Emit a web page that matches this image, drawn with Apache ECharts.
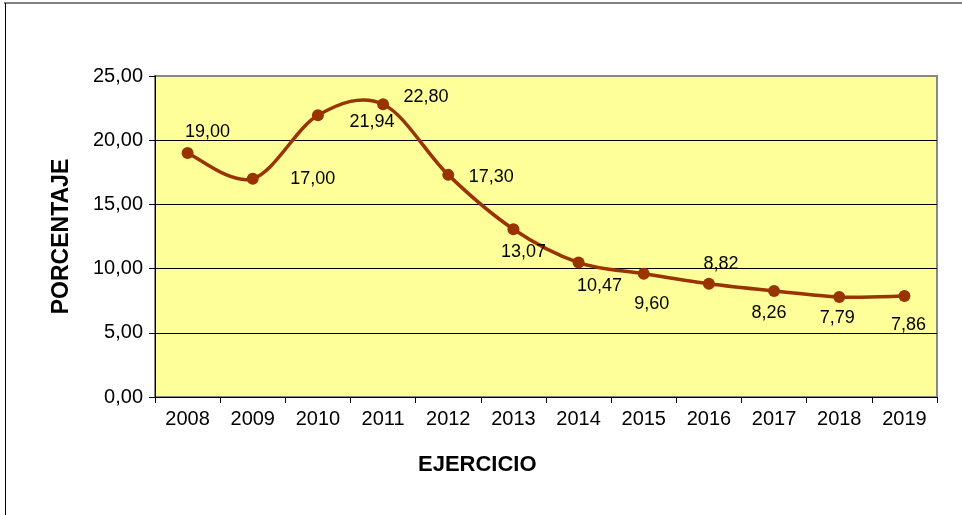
<!DOCTYPE html>
<html>
<head>
<meta charset="utf-8">
<script src="https://cdn.jsdelivr.net/npm/echarts@6/dist/echarts.min.js"></script>
<style>
  html, body { margin: 0; padding: 0; background: #fff; }
  #chart { width: 962px; height: 515px; }
</style>
</head>
<body>
<div id="chart"></div>
<script>
// datos
var years = ['2008', '2009', '2010', '2011', '2012', '2013', '2014', '2015', '2016', '2017', '2018', '2019']
var porcentaje = [19.00, 17.00, 21.94, 22.80, 17.30, 13.07, 10.47, 9.60, 8.82, 8.26, 7.79, 7.86]
// desplazamiento de cada etiqueta respecto al punto (como en el original de Excel)
var labelOffsets = [[20, -21], [60, 0], [54, 7], [43, -7], [43, 2], [10, 23], [21, 23], [8, 30], [12, -20], [-5, 22], [-2, 21], [4, 29]]

var lineColor = '#993300'

function fmt(v) {
  return v.toFixed(2).replace('.', ',')
}

var chart = echarts.init(document.getElementById('chart'))

var seriesData = porcentaje.map(function (v, i) {
  return {
    value: v,
    label: { offset: labelOffsets[i] }
  }
})

// curva suavizada estilo Excel (Catmull-Rom), un tramo por punto
function renderSegment(params, api) {
  var i = params.dataIndex
  var n = porcentaje.length
  if (i >= n - 1) return null
  var p = function (k) {
    k = Math.max(0, Math.min(n - 1, k))
    return api.coord([k, porcentaje[k]])
  }
  var p0 = p(i - 1), p1 = p(i), p2 = p(i + 1), p3 = p(i + 2)
  var c1 = [p1[0] + (p2[0] - p0[0]) / 6, p1[1] + (p2[1] - p0[1]) / 6]
  var c2 = [p2[0] - (p3[0] - p1[0]) / 6, p2[1] - (p3[1] - p1[1]) / 6]
  return {
    type: 'bezierCurve',
    shape: {
      x1: p1[0], y1: p1[1],
      x2: p2[0], y2: p2[1],
      cpx1: c1[0], cpy1: c1[1],
      cpx2: c2[0], cpy2: c2[1]
    },
    style: { stroke: lineColor, lineWidth: 3.5, fill: null }
  }
}

chart.setOption({
  animation: false,
  textStyle: { fontFamily: 'Liberation Sans, Arial, sans-serif' },
  graphic: [
    // marco exterior del grafico
    { type: 'line', shape: { x1: 4, y1: 3, x2: 962, y2: 3 }, style: { stroke: '#808080', lineWidth: 2 } },
    { type: 'line', shape: { x1: 5.5, y1: 3, x2: 5.5, y2: 515 }, style: { stroke: '#000', lineWidth: 1 } },
    {
      type: 'text', left: 418, top: 454,
      style: { text: 'EJERCICIO', font: 'bold 22px Liberation Sans, Arial, sans-serif', fill: '#000' }
    }
  ],
  grid: {
    left: 155,
    right: 25,
    top: 76,
    bottom: 118,
    show: true,
    backgroundColor: '#FFFF99',
    borderColor: '#888888',
    borderWidth: 2
  },
  xAxis: {
    type: 'category',
    data: years,
    boundaryGap: true,
    axisLine: { lineStyle: { color: '#000', width: 1 } },
    axisTick: { show: true, length: 6, interval: 0, lineStyle: { color: '#000' } },
    axisLabel: { fontSize: 20, color: '#000', margin: 12, interval: 0 }
  },
  yAxis: {
    type: 'value',
    min: 0,
    max: 25,
    interval: 5,
    name: 'PORCENTAJE',
    nameLocation: 'middle',
    nameGap: 82,
    nameTextStyle: { fontSize: 23, fontWeight: 'bold', color: '#000' },
    axisLine: { show: true, lineStyle: { color: '#000', width: 1 } },
    axisTick: { show: true, length: 6, lineStyle: { color: '#000' } },
    axisLabel: {
      fontSize: 20,
      color: '#000',
      margin: 12,
      formatter: function (v) { return fmt(v) }
    },
    splitLine: { show: true, showMaxLine: false, lineStyle: { color: '#000', width: 1 } }
  },
  series: [
    {
      name: 'curva',
      type: 'custom',
      renderItem: renderSegment,
      data: porcentaje,
      z: 2
    },
    {
      name: 'Porcentaje',
      type: 'line',
      data: seriesData,
      symbol: 'circle',
      symbolSize: 12,
      lineStyle: { width: 0 },
      itemStyle: { color: lineColor },
      z: 3,
      label: {
        show: true,
        position: 'inside',
        fontSize: 18,
        color: '#000',
        formatter: function (p) { return fmt(p.value) }
      }
    }
  ]
})
</script>
</body>
</html>
